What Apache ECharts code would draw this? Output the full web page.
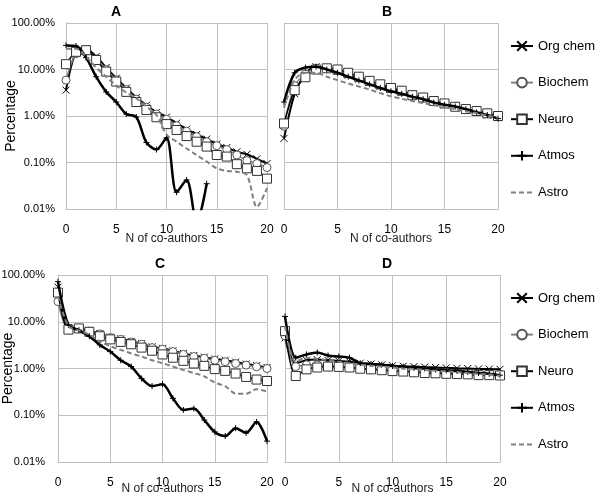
<!DOCTYPE html>
<html><head><meta charset="utf-8">
<script src="https://cdn.jsdelivr.net/npm/echarts@6/dist/echarts.min.js"></script>
<style>html,body{margin:0;padding:0;background:#fff}#c{width:599px;height:493px}</style>
</head><body><div id="c"></div>
<script>
// N of co-authors (x categories)
const nAuthors = [0,1,2,3,4,5,6,7,8,9,10,11,12,13,14,15,16,17,18,19,20];
const seriesNames = ['Org chem','Biochem','Neuro','Atmos','Astro'];
const panelTitles = ['A','B','C','D'];

// Panel A (percent)
const orgA = [3.6,24,28,19,11,6.5,4,2.5,1.7,1.2,0.95,0.7,0.52,0.4,0.32,0.25,0.21,0.17,0.15,0.12,0.095];
const bioA = [5.9,22,25,17,10,6,3.7,2.3,1.55,1.1,0.85,0.62,0.47,0.36,0.28,0.23,0.19,0.145,0.11,0.095,0.078];
const neuA = [13,24,26,16,9,5.5,3.3,2.0,1.35,0.94,0.67,0.5,0.37,0.28,0.22,0.145,0.134,0.092,0.075,0.066,0.045];
const atmA = [33,32,18,7,3.3,2.0,1.1,0.95,0.27,0.19,0.34,0.023,0.042,0.005,0.035,null,null,null,null,null,null];
const astA = [28,28,19,11,7,4.5,3.2,2.4,1.6,1.05,0.4,0.28,0.2,0.144,0.105,0.075,0.066,0.063,0.054,0.011,0.028];

// Panel B
const orgB = [0.33,3,8,11.5,10.5,9,7.5,6.2,5.2,4.4,3.7,3.2,2.7,2.35,2.0,1.75,1.55,1.35,1.2,1.05,0.92];
const bioB = [0.6,4.5,8,10.5,10.5,9.5,8.2,6.9,5.7,4.8,4.1,3.5,2.9,2.5,2.15,1.85,1.6,1.42,1.28,1.15,1.0];
const neuB = [0.69,3.6,6.8,10,10.6,10,8.5,7,5.7,4.8,4.0,3.5,2.8,2.5,2.1,1.86,1.58,1.41,1.28,1.14,1.0];
const atmB = [2.0,8.5,11,11.5,10,8.5,7,5.8,4.8,4.0,3.4,3.0,2.6,2.3,1.95,1.75,1.6,1.4,1.2,1.05,0.88];
const astB = [1.5,6,8.5,8.5,7,5.9,5.0,4.3,3.7,3.1,2.65,2.35,2.1,1.9,1.7,1.55,1.4,1.27,1.15,1.02,0.92];

// Panel C
const orgC = [55,7.5,7.3,6.4,5.6,4.7,4.3,3.8,3.4,2.9,2.7,2.4,2.1,1.9,1.75,1.6,1.5,1.37,1.25,1.15,1.05];
const bioC = [27,7,7.2,6.3,5.5,4.6,4.2,3.7,3.3,2.8,2.6,2.3,2.0,1.8,1.65,1.5,1.4,1.28,1.18,1.09,1.0];
const neuC = [42,6.8,7.2,6.1,4.9,4.2,3.7,3.3,2.8,2.4,2.0,1.7,1.46,1.28,1.14,0.97,0.89,0.78,0.66,0.58,0.54];
const atmC = [72,8.5,6.6,4.9,3.2,2.3,1.5,1.1,0.61,0.42,0.46,0.23,0.13,0.139,0.079,0.044,0.036,0.053,0.042,0.072,0.028];
const astC = [35,8,6.5,5.3,3.8,3.0,2.5,2.1,1.8,1.5,1.3,1.1,0.93,0.8,0.68,0.5,0.42,0.29,0.29,0.36,0.32];

// Panel D
const orgD = [4.5,1.3,1.5,1.55,1.5,1.45,1.4,1.3,1.25,1.2,1.15,1.12,1.1,1.07,1.05,1.03,1.01,1.0,0.98,0.97,0.96];
const bioD = [5,1.1,1.2,1.2,1.15,1.1,1.05,1.0,0.97,0.95,0.92,0.9,0.88,0.86,0.84,0.82,0.8,0.79,0.77,0.76,0.75];
const neuD = [6.3,0.69,0.96,1.05,1.1,1.08,1.05,0.99,0.96,0.92,0.88,0.86,0.83,0.8,0.79,0.77,0.76,0.75,0.72,0.72,0.71];
const atmD = [13,1.7,2.0,2.2,1.9,1.8,1.7,1.3,1.25,1.2,1.13,1.1,1.03,1.0,0.95,0.91,0.88,0.84,0.8,0.77,0.72];
const astD = [8,1.4,1.7,1.6,1.5,1.4,1.3,1.2,1.15,1.1,1.05,1.0,0.97,0.94,0.9,0.87,0.84,0.8,0.77,0.74,0.7];

const panels = [
  [orgA,bioA,neuA,atmA,astA],
  [orgB,bioB,neuB,atmB,astB],
  [orgC,bioC,neuC,atmC,astC],
  [orgD,bioD,neuD,atmD,astD]
];

const FONT = '"Liberation Sans",Arial,sans-serif';
const gridBoxes = [
  {left:66, top:23, width:201, height:186},
  {left:284, top:23, width:214, height:186},
  {left:58, top:275, width:209, height:187},
  {left:285, top:275, width:215, height:187}
];
const titlePos = [[111,5],[382,5],[155,257],[382,257]];
const yNameGap = [48, 0, 43, 0];
const yLabelMargin = [11, 0, 13, 0];
const xNameGap = [24, 24, 21, 21];

const crossPath = 'path://M0,0L10,10M10,0L0,10';
const plusPath = 'path://M5,0L5,10M0,5L10,5';
const styles = [
  {color:'#000', lw:2, type:'solid', symbol:crossPath, size:7, itemStyle:{color:'#000',borderColor:'#000',borderWidth:1}},
  {color:'#808080', lw:1.5, type:'solid', symbol:'circle', size:8, itemStyle:{color:'#fff',borderColor:'#555',borderWidth:1}},
  {color:'#000', lw:1.5, type:'solid', symbol:'rect', size:9, itemStyle:{color:'#fff',borderColor:'#333',borderWidth:1}},
  {color:'#000', lw:2.5, type:'solid', symbol:plusPath, size:6, itemStyle:{color:'#000',borderColor:'#000',borderWidth:1}},
  {color:'#808080', lw:2, type:[5,3], symbol:'none', size:0, itemStyle:{color:'#808080'}}
];

const grid = gridBoxes.map(g => Object.assign({containLabel:false, outerBoundsMode:'none'}, g));
const xAxis = gridBoxes.map((g,i) => ({
  type:'value', gridIndex:i, min:0, max:20, interval:5,
  name:'N of co-authors', nameLocation:'middle', nameGap: xNameGap[i], nameMoveOverlap:false,
  nameTextStyle:{fontFamily:FONT, fontSize:12, color:'#222'},
  axisLine:{lineStyle:{color:'#bfbfbf'}}, axisTick:{show:false},
  axisLabel:{fontFamily:FONT, fontSize:12, color:'#000', margin:15},
  splitLine:{show:true, lineStyle:{color:'#bfbfbf'}}
}));
const yAxis = gridBoxes.map((g,i) => ({
  type:'log', logBase:10, gridIndex:i, min:0.01, max:100,
  name: (i===0||i===2) ? 'Percentage' : '', nameLocation:'middle', nameGap:yNameGap[i], nameRotate:90,
  nameMoveOverlap:false,
  nameTextStyle:{fontFamily:FONT, fontSize:14, color:'#000'},
  axisLine:{show:true, lineStyle:{color:'#bfbfbf'}}, axisTick:{show:false},
  axisLabel:{show:(i===0||i===2), fontFamily:FONT, fontSize:11, color:'#000', margin:yLabelMargin[i],
    formatter: v => v.toFixed(2) + '%'},
  splitLine:{show:true, lineStyle:{color:'#bfbfbf'}}
}));

const series = [];
panels.forEach((arrs, p) => {
  arrs.forEach((arr, k) => {
    const s = styles[k];
    series.push({
      name: seriesNames[k], type:'line', xAxisIndex:p, yAxisIndex:p,
      data: nAuthors.map((x,j) => [x, arr[j]]),
      smooth: 0.3, connectNulls:false, clip:true,
      symbol: s.symbol, symbolSize: s.size, showSymbol: s.symbol !== 'none',
      lineStyle:{color:s.color, width:s.lw, type:s.type},
      itemStyle: s.itemStyle,
      z: 2 + k, animation:false
    });
  });
});

const legendData = seriesNames.map(n => n === 'Astro' ? {name:n, itemStyle:{opacity:0}} : {name:n});
const legendBase = {
  data: legendData, orient:'vertical', left:510, padding:0, itemWidth:22, itemHeight:12, itemGap:22.6,
  textStyle:{fontFamily:FONT, fontSize:13, lineHeight:14, color:'#000'}, selectedMode:false
};

const option = {
  backgroundColor:'#fff',
  animation:false,
  title: panelTitles.map((t,i) => ({text:t, left:titlePos[i][0], top:titlePos[i][1], padding:0,
    textStyle:{fontFamily:FONT, fontSize:14, fontWeight:'bold', color:'#000'}})),
  grid, xAxis, yAxis, series,
  legend: [Object.assign({}, legendBase, {top:39}), Object.assign({}, legendBase, {top:291})]
};
const chart = echarts.init(document.getElementById('c'), null, {renderer:'canvas'});
chart.setOption(option);
</script></body></html>
